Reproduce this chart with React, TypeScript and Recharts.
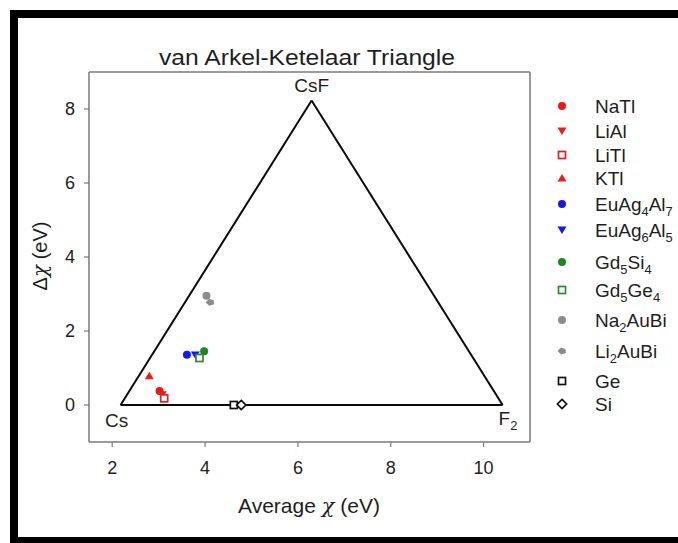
import React from 'react';
import { ScatterChart, Scatter, XAxis, YAxis, ReferenceLine } from 'recharts';

// Compounds plotted on the van Arkel-Ketelaar triangle
const SERIES_NAMES = ['NaTl', 'LiAl', 'LiTl', 'KTl', 'EuAg4Al7', 'EuAg6Al5', 'Gd5Si4', 'Gd5Ge4', 'Na2AuBi', 'Li2AuBi', 'Ge', 'Si'];
const AVG_CHI = [3.02, 3.08, 3.12, 2.8, 3.61, 3.79, 3.98, 3.88, 4.03, 4.11, 4.62, 4.78];
const DELTA_CHI = [0.38, 0.28, 0.18, 0.79, 1.36, 1.35, 1.45, 1.27, 2.95, 2.78, 0, 0];
const MARKERS = ['circle', 'triDown', 'square', 'triUp', 'circle', 'triDown', 'circle', 'square', 'circle', 'blob', 'square', 'diamond'];
const COLORS = ['#f01818', '#f01818', '#e02020', '#f01818', '#1616ee', '#1616ee', '#178a17', '#2f8a2f', '#8c8c8c', '#8c8c8c', '#111111', '#111111'];

// Triangle corners (Cs, CsF, F2)
const VERTEX_NAMES = ['Cs', 'CsF', 'F2'];
const VERTEX_AVG = [2.18, 6.295, 10.41];
const VERTEX_DELTA = [0, 8.23, 0];

const X_TICKS = [2, 4, 6, 8, 10];
const Y_TICKS = [0, 2, 4, 6, 8];

const FONT = '"Liberation Sans", Arial, sans-serif';
const TEXT = '#1e1e1e';
const AXIS = '#7a7a7a';

// legend row centres
const LEGEND_ROWS = [106, 131, 155, 178, 204, 230, 262, 290, 320, 351, 381, 404];

function Formula({ text, size }: { text: string; size: number }) {
  const parts = text.split(/(\d+)/).filter(Boolean);
  let shifted = false;
  return (
    <>
      {parts.map((p, i) => {
        const isSub = /^\d+$/.test(p);
        let dy = 0;
        if (isSub && !shifted) {
          dy = size * 0.28;
          shifted = true;
        } else if (!isSub && shifted) {
          dy = -size * 0.28;
          shifted = false;
        }
        return (
          <tspan key={i} dy={dy} fontSize={isSub ? size * 0.68 : size}>
            {p}
          </tspan>
        );
      })}
    </>
  );
}

function Marker({ cx, cy, kind, color }: { cx: number; cy: number; kind: string; color: string }) {
  switch (kind) {
    case 'circle':
      return <circle cx={cx} cy={cy} r={4} fill={color} />;
    case 'triDown':
      return <path d={`M${cx - 4.5},${cy - 3.5}L${cx + 4.5},${cy - 3.5}L${cx},${cy + 4}Z`} fill={color} />;
    case 'triUp':
      return <path d={`M${cx - 4.5},${cy + 3.5}L${cx + 4.5},${cy + 3.5}L${cx},${cy - 4}Z`} fill={color} />;
    case 'square':
      return <rect x={cx - 3.5} y={cy - 3.5} width={7} height={7} fill="#fff" stroke={color} strokeWidth={1.7} />;
    case 'diamond':
      return <path d={`M${cx},${cy - 4.6}L${cx + 4.6},${cy}L${cx},${cy + 4.6}L${cx - 4.6},${cy}Z`} fill="#fff" stroke={color} strokeWidth={1.7} />;
    case 'blob':
      return <path d={`M${cx - 4.5},${cy}L${cx - 1},${cy - 3.5}L${cx + 3.5},${cy - 2}L${cx + 4},${cy + 2}L${cx - 1},${cy + 3.5}Z`} fill={color} />;
    default:
      return null;
  }
}

function VertexLabel({ cx, cy, name }: { cx: number; cy: number; name: string }) {
  if (cx == null || cy == null) return null;
  if (name === 'CsF') {
    return (
      <text x={cx} y={cy - 8} textAnchor="middle" fontSize={19} fontFamily={FONT} fill={TEXT}>
        {name}
      </text>
    );
  }
  if (name === 'Cs') {
    return (
      <text x={cx - 4} y={cy + 22} textAnchor="middle" fontSize={19} fontFamily={FONT} fill={TEXT}>
        {name}
      </text>
    );
  }
  return (
    <text x={cx - 4} y={cy + 20} textAnchor="start" fontSize={19} fontFamily={FONT} fill={TEXT}>
      <Formula text={name} size={19} />
    </text>
  );
}

export default function App() {
  const points = SERIES_NAMES.map((name, i) => ({
    name,
    x: AVG_CHI[i],
    y: DELTA_CHI[i],
    marker: MARKERS[i],
    color: COLORS[i],
  }));
  const vertices = VERTEX_NAMES.map((name, i) => ({ name, x: VERTEX_AVG[i], y: VERTEX_DELTA[i] }));
  const edges = [
    [vertices[0], vertices[1]],
    [vertices[1], vertices[2]],
    [vertices[2], vertices[0]],
  ];

  return (
    <div style={{ position: 'absolute', left: 0, top: 0, width: 678, height: 543, background: '#fff', overflow: 'hidden' }}>
      <div
        style={{
          position: 'absolute',
          left: 10,
          top: 10,
          width: 668,
          height: 533,
          borderTop: '8px solid #000',
          borderLeft: '8px solid #000',
          borderBottom: '6px solid #000',
          boxSizing: 'border-box',
        }}
      />
      <div style={{ position: 'absolute', left: 0, top: 0 }}>
        <ScatterChart width={678} height={543} margin={{ top: 72, right: 148, bottom: 71, left: 39 }}>
          <XAxis
            type="number"
            dataKey="x"
            domain={[1.5, 11]}
            ticks={X_TICKS}
            allowDataOverflow
            height={30}
            axisLine={{ stroke: AXIS, strokeWidth: 1.5 }}
            tickLine={{ stroke: AXIS, strokeWidth: 1.2 }}
            tickSize={5}
            tickMargin={14}
            tick={{ fill: TEXT, fontSize: 18, fontFamily: FONT }}
          />
          <YAxis
            type="number"
            dataKey="y"
            domain={[-1, 9]}
            ticks={Y_TICKS}
            allowDataOverflow
            width={50}
            axisLine={{ stroke: AXIS, strokeWidth: 1.5 }}
            tickLine={{ stroke: AXIS, strokeWidth: 1.2 }}
            tickSize={5}
            tickMargin={9}
            tick={{ fill: TEXT, fontSize: 18, fontFamily: FONT }}
          />
          <ReferenceLine y={9} stroke={AXIS} strokeWidth={1.5} ifOverflow="visible" />
          <ReferenceLine x={11} stroke={AXIS} strokeWidth={1.5} ifOverflow="visible" />
          {edges.map((e, i) => (
            <ReferenceLine
              key={i}
              segment={[{ x: e[0].x, y: e[0].y }, { x: e[1].x, y: e[1].y }]}
              stroke="#0a0a0a"
              strokeWidth={2}
              ifOverflow="visible"
            />
          ))}
          <Scatter
            name="vertices"
            data={vertices}
            isAnimationActive={false}
            shape={(p: any) => <VertexLabel cx={p.cx} cy={p.cy} name={p.payload?.name ?? p.name} />}
          />
          {points.map((pt) => (
            <Scatter
              key={pt.name}
              name={pt.name}
              data={[pt]}
              isAnimationActive={false}
              shape={(p: any) => <Marker cx={p.cx} cy={p.cy} kind={pt.marker} color={pt.color} />}
            />
          ))}
        </ScatterChart>
      </div>
      <svg width={678} height={543} style={{ position: 'absolute', left: 0, top: 0, pointerEvents: 'none' }}>
        <text x={307} y={65} textAnchor="middle" fontSize={22} textLength={296} lengthAdjust="spacingAndGlyphs" fontFamily={FONT} fill={TEXT}>
          van Arkel-Ketelaar Triangle
        </text>
        <text x={309} y={513} textAnchor="middle" fontSize={21} fontFamily={FONT} fill={TEXT}>
          Average <tspan fontStyle="italic" fontFamily='"DejaVu Serif", serif'>χ</tspan> (eV)
        </text>
        <text x={0} y={0} transform="translate(47,256) rotate(-90)" textAnchor="middle" fontSize={20} fontFamily={FONT} fill={TEXT}>
          Δ<tspan fontStyle="italic" fontFamily='"DejaVu Serif", serif'>χ</tspan> (eV)
        </text>
        {points.map((pt, i) => (
          <g key={pt.name}>
            <Marker cx={562} cy={LEGEND_ROWS[i]} kind={pt.marker} color={pt.color} />
            <text x={595} y={LEGEND_ROWS[i] + 7} fontSize={19} fontFamily={FONT} fill={TEXT}>
              <Formula text={pt.name} size={19} />
            </text>
          </g>
        ))}
      </svg>
    </div>
  );
}
